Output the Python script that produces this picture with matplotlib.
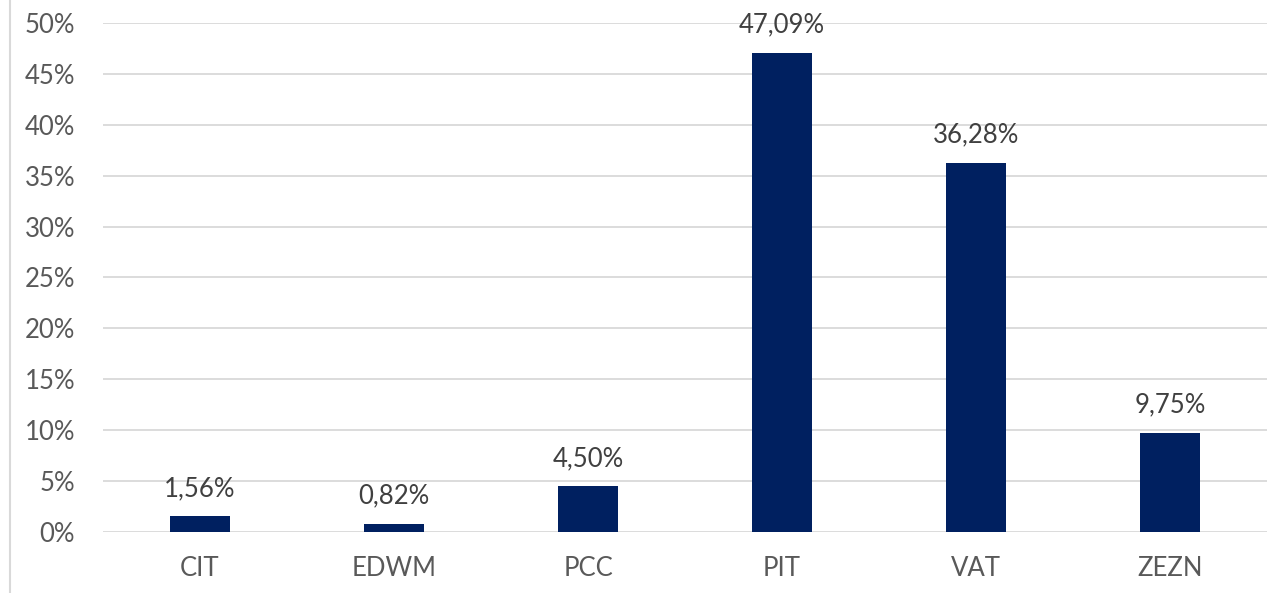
import matplotlib.pyplot as plt
from matplotlib.lines import Line2D
from matplotlib.ticker import FuncFormatter

# Data
categories = ["CIT", "EDWM", "PCC", "PIT", "VAT", "ZEZN"]
shares = [1.56, 0.82, 4.50, 47.09, 36.28, 9.75]
yticks = [0, 5, 10, 15, 20, 25, 30, 35, 40, 45, 50]

plt.rcParams['font.family'] = ['Lato', 'DejaVu Sans']

fig = plt.figure(figsize=(12.78, 5.93), dpi=100)
ax = fig.add_axes([0.0806, 0.1029, 0.9108, 0.8583])

x = range(len(categories))
bars = ax.bar(x, shares, width=0.31, color='#002060', zorder=3)

labels = [f"{v:.2f}%".replace('.', ',') for v in shares]
ax.bar_label(bars, labels=labels, padding=11, fontsize=18.5, color='#404040')

ax.set_xlim(-0.5, len(categories) - 0.5)
ax.set_ylim(0, 50)
ax.set_yticks(yticks)
ax.yaxis.set_major_formatter(FuncFormatter(lambda v, p: f"{v:.0f}%"))
ax.set_xticks(list(x))
ax.set_xticklabels(categories)

ax.grid(axis='y', color='#d9d9d9', linewidth=1.3, zorder=0)
for s in ax.spines.values():
    s.set_visible(False)
ax.tick_params(axis='both', length=0, labelsize=18.5, labelcolor='#595959')
ax.tick_params(axis='y', pad=20)
ax.tick_params(axis='x', pad=17)

# thin border line at the left edge of the picture
fig.add_artist(Line2D([0.0075, 0.0075], [0, 1], transform=fig.transFigure,
                      color='#d9d9d9', linewidth=1.5))

fig.savefig("out.png", dpi=100)
